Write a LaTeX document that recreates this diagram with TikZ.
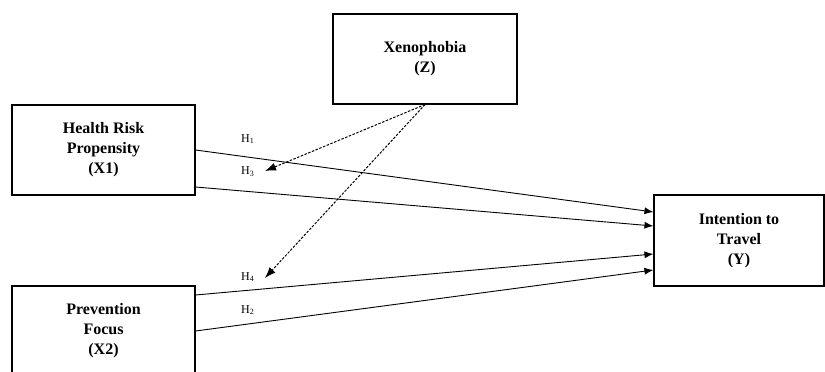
\documentclass[tikz,border=0pt]{standalone}
\usepackage{fontspec}
\setmainfont{Liberation Serif}
\usetikzlibrary{arrows.meta}

\begin{document}
\begin{tikzpicture}[
  x=1pt, y=-1pt, >={Latex[length=9pt,width=7pt]},
  box/.style={draw, line width=1.1pt, align=center, inner sep=0pt,
              font=\fontsize{16}{20}\selectfont\bfseries,
              minimum width=183pt, minimum height=90pt},
  eff/.style={->, line width=0.9pt},
  mod/.style={-{Latex[length=11pt,width=8pt]}, line width=1pt, dash pattern=on 2.5pt off 1.5pt},
  hyp/.style={anchor=west, inner sep=0pt, font=\fontsize{12}{14}\selectfont}]
\useasboundingbox (0,0) rectangle (825,372);
\clip (0,0) rectangle (825,372);
\node[box] (x1) at (103.5,150) {Health Risk\\Propensity\\(X1)};
\node[box] (x2) at (103.5,331) {Prevention\\Focus\\(X2)};
\node[box, minimum width=184pt] (z) at (425,59) {Xenophobia\\(Z)};
\node[box, minimum width=170pt, minimum height=91pt] (y) at (739,240.5) {Intention to\\Travel\\(Y)};
\coordinate (m3) at (265,171);
\coordinate (m4) at (265,278);
\draw[eff] (x1.east) -- ([yshift=28.5pt]y.west);
\draw[eff] ([yshift=-37pt]x1.east) -- ([yshift=14.5pt]y.west);
\draw[eff] ([yshift=36pt]x2.east) -- ([yshift=-13.5pt]y.west);
\draw[eff] (x2.east) -- ([yshift=-29.5pt]y.west);
\draw[mod] (z.south) -- (m3);
\draw[mod] (z.south) -- (m4);
\node[hyp] (h1) at (241,139) {H\textsubscript{1}};
\node[hyp] (h3) at (241,172) {H\textsubscript{3}};
\node[hyp] (h4) at (241,277) {H\textsubscript{4}};
\node[hyp] (h2) at (241,310) {H\textsubscript{2}};
\end{tikzpicture}
\end{document}
